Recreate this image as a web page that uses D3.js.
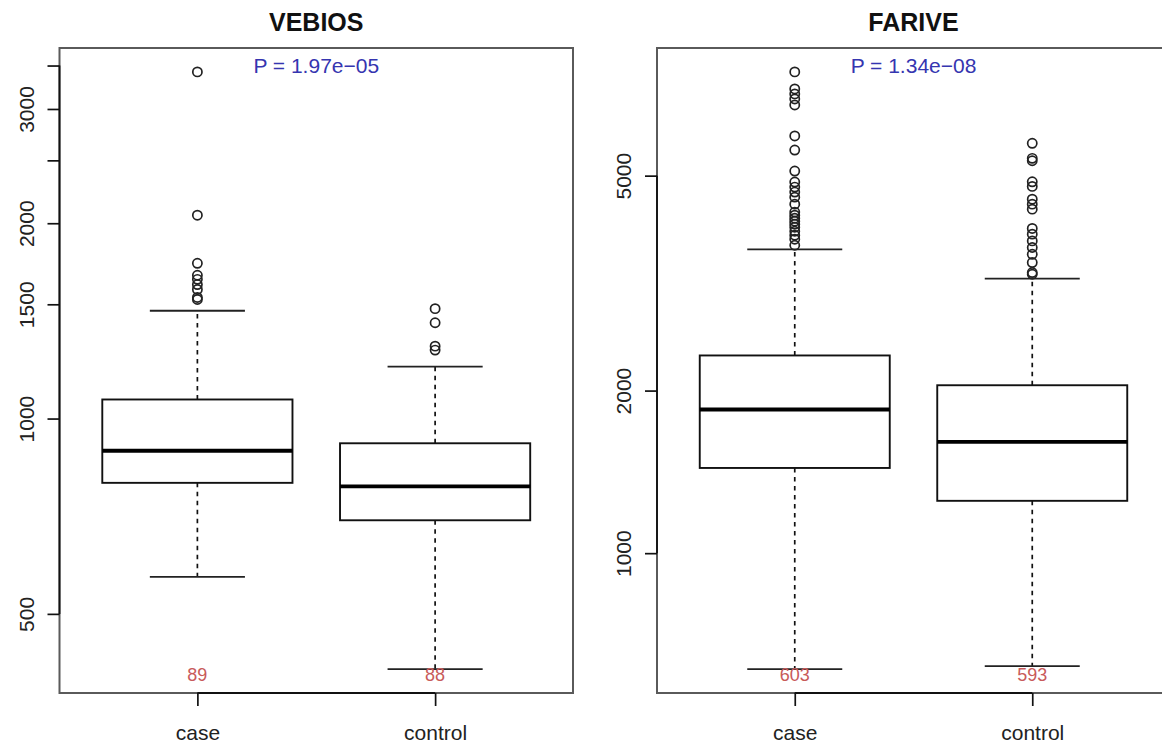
<!DOCTYPE html>
<html>
<head>
<meta charset="utf-8">
<script src="https://cdn.jsdelivr.net/npm/d3@7"></script>
<style>
  body { margin: 0; background: #fff; }
  svg { display: block; }
  text { font-family: "Liberation Sans", Arial, Helvetica, sans-serif; }
</style>
</head>
<body>
<svg id="chart" width="1162" height="746"></svg>
<script>
// Group names and panel annotations
const groups = ["case", "control"];
const panelTitles = ["VEBIOS", "FARIVE"];
const pValueLabels = ["P = 1.97e\u221205", "P = 1.34e\u221208"];

// VEBIOS: five-number summaries per group (case, control)
const vebiosN = [89, 88];
const vebiosLowerWhisker = [570, 411];
const vebiosQ1 = [796, 697];
const vebiosMedian = [892, 786];
const vebiosQ3 = [1070, 916];
const vebiosUpperWhisker = [1466, 1202];
const vebiosOutliersCase = [3422, 2058, 1735, 1663, 1639, 1609, 1581, 1537, 1526];
const vebiosOutliersControl = [1477, 1405, 1293, 1275];
const vebiosTicks = [500, 1000, 1500, 2000, 2500, 3000, 3500];
const vebiosTickLabels = ["500", "1000", "1500", "2000", "", "3000", ""];

// FARIVE: five-number summaries per group (case, control)
const fariveN = [603, 593];
const fariveLowerWhisker = [610, 618];
const fariveQ1 = [1438, 1250];
const fariveMedian = [1845, 1607];
const fariveQ3 = [2323, 2046];
const fariveUpperWhisker = [3653, 3224];
const fariveOutliersCase = [7782, 7236, 7085, 6934, 6759, 5922, 5577, 5099, 4865, 4762,
  4661, 4562, 4428, 4280, 4225, 4171, 4118, 4065, 4013, 3945, 3878, 3813, 3716];
const fariveOutliersControl = [5739, 5383, 5328, 4871, 4776, 4523, 4428, 4335, 3992,
  3896, 3786, 3681, 3576, 3452, 3308, 3284];
const fariveTicks = [1000, 2000, 5000];
const fariveTickLabels = ["1000", "2000", "5000"];

function makeStats(lw, q1, med, q3, uw, n, outs) {
  return groups.map((g, i) => ({
    group: g, pos: i + 1, lw: lw[i], q1: q1[i], med: med[i], q3: q3[i], uw: uw[i],
    n: n[i], outliers: outs[i]
  }));
}

const panels = [
  {
    title: panelTitles[0], pLabel: pValueLabels[0],
    stats: makeStats(vebiosLowerWhisker, vebiosQ1, vebiosMedian, vebiosQ3, vebiosUpperWhisker,
      vebiosN, [vebiosOutliersCase, vebiosOutliersControl]),
    ticks: vebiosTicks, tickLabels: vebiosTickLabels,
    left: 59.5, right: 573
  },
  {
    title: panelTitles[1], pLabel: pValueLabels[1],
    stats: makeStats(fariveLowerWhisker, fariveQ1, fariveMedian, fariveQ3, fariveUpperWhisker,
      fariveN, [fariveOutliersCase, fariveOutliersControl]),
    ticks: fariveTicks, tickLabels: fariveTickLabels,
    left: 657, right: 1170
  }
];

const plotTop = 48, plotBottom = 693;
const svg = d3.select("#chart");
svg.append("rect").attr("width", 1162).attr("height", 746).attr("fill", "#fff");

panels.forEach(p => {
  const g = svg.append("g");

  // log scale padded by 4% of the data range on each side
  const all = p.stats.flatMap(s => [s.lw, s.uw, ...s.outliers]);
  const lo = Math.log10(d3.min(all)), hi = Math.log10(d3.max(all));
  const pad = (hi - lo) * 0.04;
  const y = d3.scaleLog().domain([10 ** (lo - pad), 10 ** (hi + pad)]).range([plotBottom, plotTop]);
  const x = d3.scaleLinear().domain([0.42, 2.58]).range([p.left, p.right]);
  const halfBox = x(1.4) - x(1);
  const halfCap = x(1.2) - x(1);

  // whiskers (dashed), staples, boxes, medians and outliers
  p.stats.forEach(s => {
    const cx = x(s.pos);
    g.append("line").attr("x1", cx).attr("x2", cx).attr("y1", y(s.q3)).attr("y2", y(s.uw))
      .attr("stroke", "#111").attr("stroke-width", 1.7).attr("stroke-dasharray", "4.5,4.5");
    g.append("line").attr("x1", cx).attr("x2", cx).attr("y1", y(s.q1)).attr("y2", y(s.lw))
      .attr("stroke", "#111").attr("stroke-width", 1.7).attr("stroke-dasharray", "4.5,4.5");
    [s.uw, s.lw].forEach(v => {
      g.append("line").attr("x1", cx - halfCap).attr("x2", cx + halfCap)
        .attr("y1", y(v)).attr("y2", y(v)).attr("stroke", "#222").attr("stroke-width", 1.8);
    });
    g.append("rect").attr("x", cx - halfBox).attr("width", 2 * halfBox)
      .attr("y", y(s.q3)).attr("height", y(s.q1) - y(s.q3))
      .attr("fill", "none").attr("stroke", "#111").attr("stroke-width", 1.9);
    g.append("line").attr("x1", cx - halfBox).attr("x2", cx + halfBox)
      .attr("y1", y(s.med)).attr("y2", y(s.med)).attr("stroke", "#000").attr("stroke-width", 3.8);
    g.selectAll(null).data(s.outliers).enter().append("circle")
      .attr("cx", cx).attr("cy", d => y(d)).attr("r", 4.6)
      .attr("fill", "none").attr("stroke", "#222").attr("stroke-width", 1.7);
  });

  // plot frame
  g.append("rect").attr("x", p.left).attr("y", plotTop)
    .attr("width", p.right - p.left).attr("height", plotBottom - plotTop)
    .attr("fill", "none").attr("stroke", "#5a5a5a").attr("stroke-width", 2);

  // y axis
  const yAxis = g.append("g").attr("transform", `translate(${p.left},0)`)
    .call(d3.axisLeft(y).tickValues(p.ticks).tickSize(12)
      .tickFormat((d, i) => p.tickLabels[i]));
  yAxis.select(".domain").remove();
  yAxis.append("line").attr("x1", 0).attr("x2", 0)
    .attr("y1", y(d3.min(p.ticks))).attr("y2", y(d3.max(p.ticks)))
    .attr("stroke", "#111").attr("stroke-width", 1.8);
  yAxis.selectAll(".tick line").attr("stroke", "#111").attr("stroke-width", 1.7);
  yAxis.selectAll(".tick text")
    .attr("x", 0).attr("y", -26).attr("dy", 0)
    .attr("transform", "rotate(-90)").attr("text-anchor", "middle")
    .attr("font-size", 21).attr("fill", "#222")
    .style("font-family", "'Liberation Sans', Arial, sans-serif");

  // x axis
  const xAxis = g.append("g").attr("transform", `translate(0,${plotBottom})`)
    .call(d3.axisBottom(x).tickValues([1, 2]).tickSize(13)
      .tickFormat((d, i) => groups[i]));
  xAxis.select(".domain").remove();
  xAxis.append("line").attr("x1", x(1)).attr("x2", x(2)).attr("y1", 0).attr("y2", 0)
    .attr("stroke", "#111").attr("stroke-width", 1.8);
  xAxis.selectAll(".tick line").attr("stroke", "#111").attr("stroke-width", 1.7);
  xAxis.selectAll(".tick text").attr("y", 47).attr("dy", 0)
    .attr("font-size", 21).attr("fill", "#222")
    .style("font-family", "'Liberation Sans', Arial, sans-serif");

  // sample sizes
  g.selectAll(null).data(p.stats).enter().append("text")
    .attr("x", d => x(d.pos)).attr("y", 681).attr("text-anchor", "middle")
    .attr("font-size", 18).attr("fill", "#c85a5a").text(d => d.n);

  const mid = (p.left + p.right) / 2;
  g.append("text").attr("x", mid).attr("y", 31).attr("text-anchor", "middle")
    .attr("font-size", 25).attr("font-weight", "bold").attr("fill", "#111").text(p.title);
  g.append("text").attr("x", mid).attr("y", 73).attr("text-anchor", "middle")
    .attr("font-size", 21).attr("fill", "#3535b0").text(p.pLabel);
});
</script>
</body>
</html>
